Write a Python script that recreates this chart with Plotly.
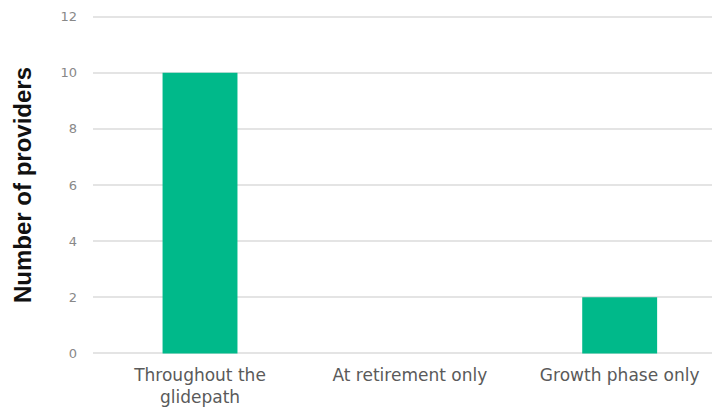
import plotly.graph_objects as go

categories = ["Throughout the<br>glidepath", "At retirement only", "Growth phase only"]
values = [10, 0, 2]
y_ticks = [0, 2, 4, 6, 8, 10, 12]

fig = go.Figure(go.Bar(
    x=categories, y=values,
    marker=dict(color="#00b98a", line=dict(width=0)),
    width=0.357,
))

fig.update_layout(
    width=715, height=410,
    margin=dict(l=93, r=3, t=11, b=51),
    paper_bgcolor="white", plot_bgcolor="white",
    showlegend=False,
    font=dict(family="DejaVu Sans", color="#555555"),
)
fig.update_xaxes(
    range=[-0.51, 2.44], automargin=False,
    showgrid=False, zeroline=False, showline=False, ticks="",
    tickfont=dict(family="DejaVu Sans", size=17, color="#5a5a5a"),
    ticklabelstandoff=4,
)
fig.update_yaxes(
    range=[-0.2, 12.2], tickvals=y_ticks, ticktext=[str(v) for v in y_ticks],
    automargin=False,
    showgrid=True, gridcolor="#e4e4e4", gridwidth=1.5,
    zeroline=False, showline=False, ticks="",
    tickfont=dict(family="DejaVu Sans", size=13, color="#888888"),
    ticklabelstandoff=15,
    title=dict(text="<b>Number of providers</b>",
               font=dict(family="Liberation Sans", size=24, color="#111111"),
               standoff=22),
)

fig.write_html("out.html")
